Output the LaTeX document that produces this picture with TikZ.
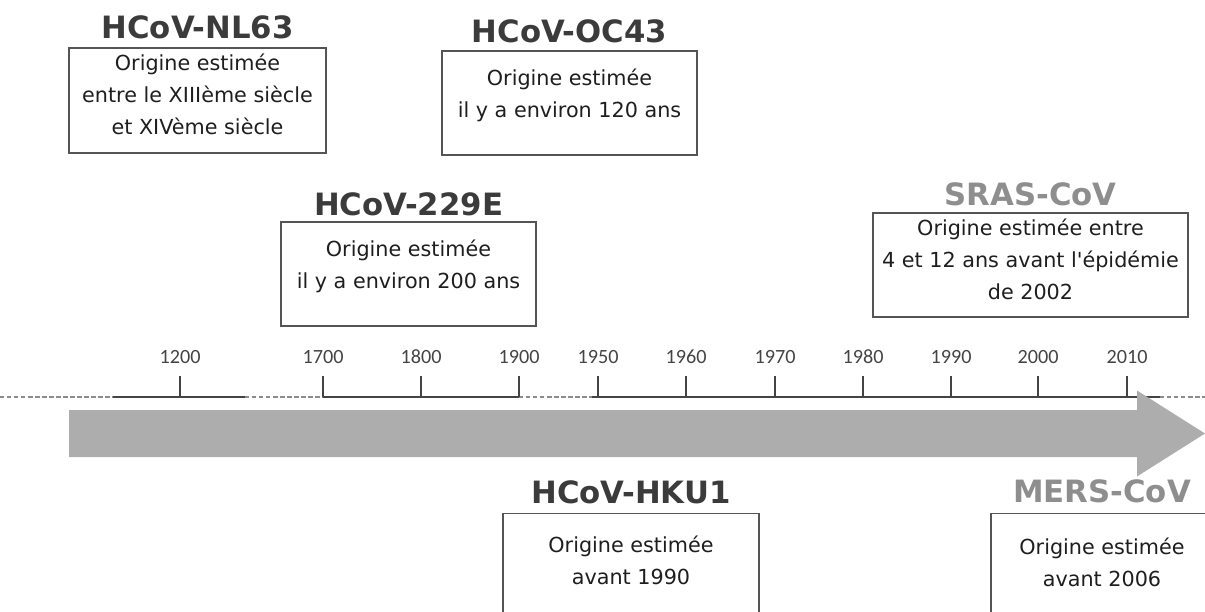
\documentclass[tikz,border=0pt]{standalone}
\usepackage{fontspec}
\setmainfont{DejaVu Sans}
\newfontfamily\yearfont{Carlito}
\usetikzlibrary{positioning}
\definecolor{covDark}{HTML}{3B3B3B}
\definecolor{covLight}{HTML}{8E8E8E}
\definecolor{covArrow}{HTML}{ADADAD}
\definecolor{covFrame}{HTML}{555555}
\definecolor{covText}{HTML}{1E1E1E}
\definecolor{covAxis}{HTML}{444444}
\definecolor{covDots}{HTML}{8C8C8C}
\tikzset{
  virusTitle/.style={
    font=\fontsize{17.5}{20}\selectfont\bfseries,
    text=covDark,
    inner sep=0pt
  },
  virusTitleLight/.style={virusTitle, text=covLight},
  originBox/.style={draw=covFrame, line width=0.75pt, inner sep=0pt},
  originText/.style={
    font=\fontsize{11.8}{18.2}\selectfont,
    text=covText,
    align=center,
    inner sep=0pt
  },
  yearLabel/.style={font=\yearfont\fontsize{11.5}{13}\selectfont, text=covAxis, inner sep=0pt, anchor=base},
  axisSolid/.style={covAxis, line width=0.8pt},
  axisDotted/.style={covDots, line width=0.85pt, dash pattern=on 2.5pt off 1.5pt},
  yearTick/.style={covAxis, line width=0.8pt}
}

\begin{document}
\begin{tikzpicture}[x=0.02cm,y=-0.02cm]
  \useasboundingbox (0,0) rectangle (1205,612);
  \clip (0,0) rectangle (1205,612);

  % time axis
  \draw[axisDotted] (0,397) -- (113,397);
  \draw[axisSolid] (113,397) -- (245,397);
  \draw[axisDotted] (245,397) -- (323,397);
  \draw[axisSolid] (323,397) -- (519,397);
  \draw[axisDotted] (519,397) -- (592,397);
  \draw[axisSolid] (592,397) -- (1160,397);
  \draw[axisDotted] (1160,397) -- (1205,397);
  \foreach \yr/\xx in {1200/180, 1700/323, 1800/421, 1900/519, 1950/598,
                       1960/686, 1970/775, 1980/863, 1990/951, 2000/1038, 2010/1127} {
    \draw[yearTick] (\xx,376) -- (\xx,397);
    \node[yearLabel] (yr\yr) at (\xx,363) {\yr};
  }

  \fill[covArrow] (69,410) -- (1137,410) -- (1137,390.5) -- (1205,433.5)
    -- (1137,476.5) -- (1137,457) -- (69,457) -- cycle;

  % upper boxes
  \node[originBox, minimum width=5.14cm, minimum height=2.1cm] (nlBox) at (197.5,100.5) {};
  \node[virusTitle, above=4.5pt of nlBox] (nlTitle) {HCoV-NL63};
  \node[originText, below=3.5pt of nlBox.north] (nlText)
    {Origine estimée\\entre le XIIIème siècle\\et XIVème siècle};

  \node[originBox, minimum width=5.1cm, minimum height=2.08cm] (ocBox) at (569.5,103) {};
  \node[virusTitle, above=4pt of ocBox] (ocTitle) {HCoV-OC43};
  \node[originText, below=10.5pt of ocBox.north] (ocText)
    {Origine estimée\\il y a environ 120 ans};

  \node[originBox, minimum width=5.1cm, minimum height=2.08cm] (hcBox) at (408.5,274) {};
  \node[virusTitle, above=3pt of hcBox] (hcTitle) {HCoV-229E};
  \node[originText, below=10.5pt of hcBox.north] (hcText)
    {Origine estimée\\il y a environ 200 ans};

  \node[originBox, minimum width=6.3cm, minimum height=2.08cm] (srBox) at (1030.5,265) {};
  \node[virusTitleLight, above=3.5pt of srBox] (srTitle) {SRAS-CoV};
  \node[originText, below=3.5pt of srBox.north] (srText)
    {Origine estimée entre\\4 et 12 ans avant l\textquotesingle épidémie\\de 2002};

  % lower boxes
  \node[originBox, minimum width=5.12cm, minimum height=2.94cm] (hkBox) at (631,587) {};
  \node[virusTitle, above=5pt of hkBox] (hkTitle) {HCoV-HKU1};
  \node[originText, below=13pt of hkBox.north] (hkText)
    {Origine estimée\\avant 1990};

  \node[originBox, minimum width=4.44cm, minimum height=2.94cm] (meBox) at (1102,587) {};
  \node[virusTitleLight, above=5.5pt of meBox] (meTitle) {MERS-CoV};
  \node[originText, below=14pt of meBox.north] (meText)
    {Origine estimée\\avant 2006};
\end{tikzpicture}
\end{document}
